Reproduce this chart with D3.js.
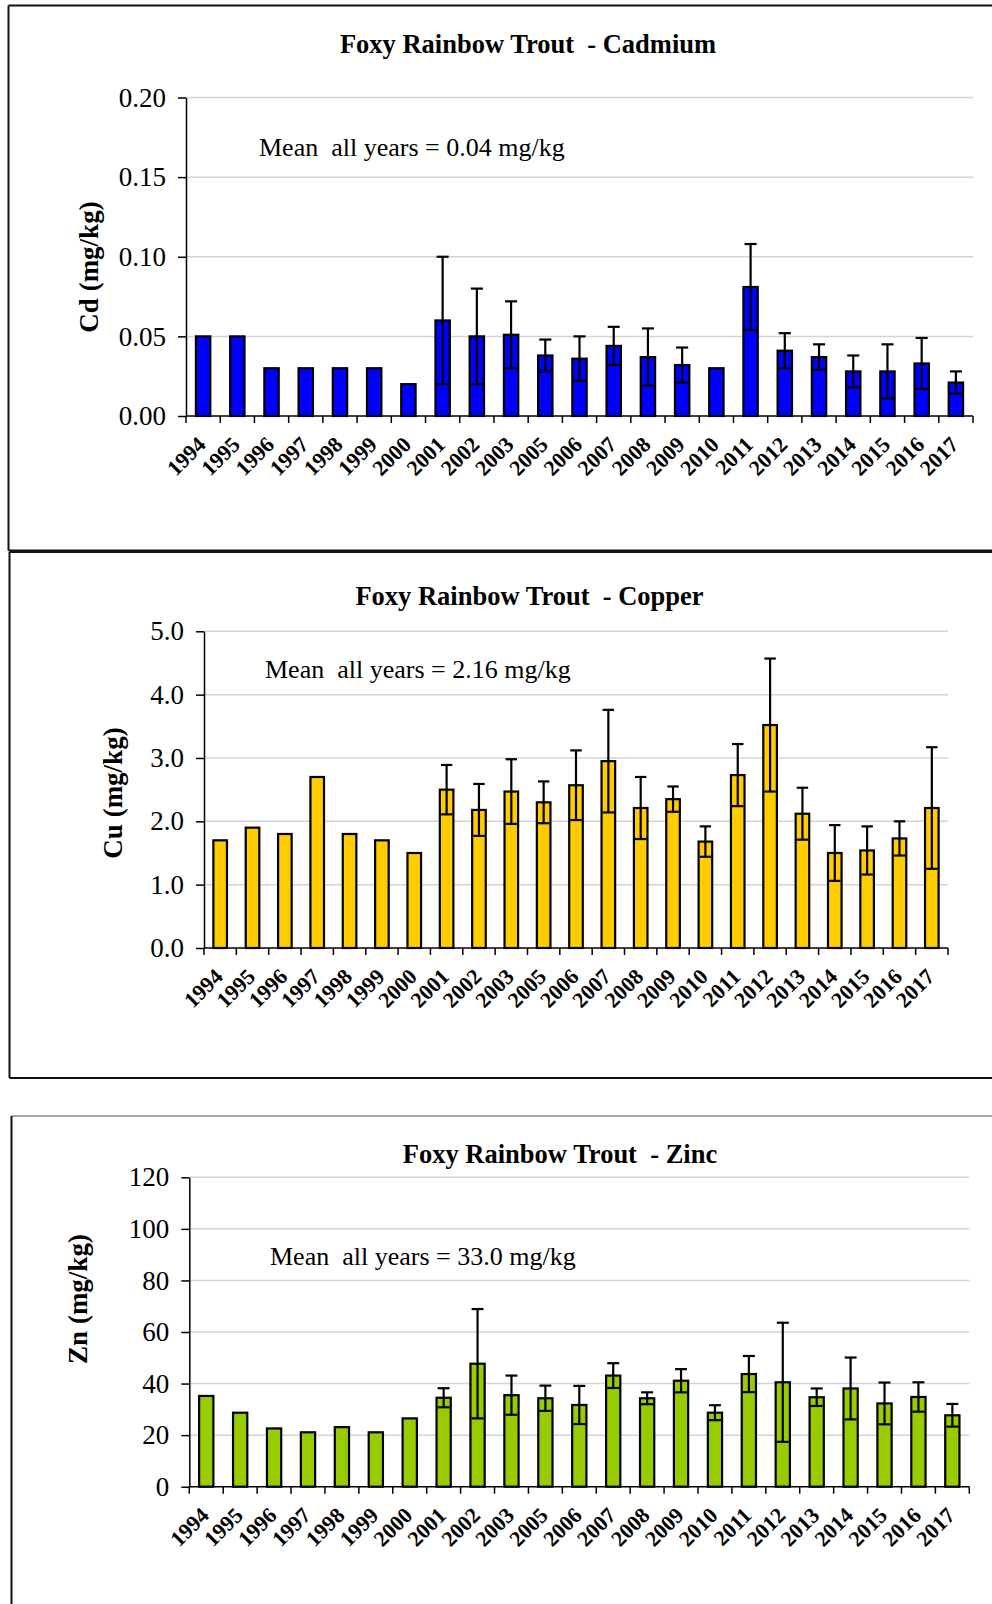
<!DOCTYPE html>
<html>
<head>
<meta charset="utf-8">
<script src="https://cdn.jsdelivr.net/npm/d3@7"></script>
<style>
  html, body { margin: 0; padding: 0; background: #fff; }
  svg { display: block; }
  text { font-family: "Liberation Serif", "Times New Roman", serif; fill: #000; }
</style>
</head>
<body>
<svg id="chart" width="992" height="1604"></svg>
<script>
// Sampling years (no 2004 survey)
const years = ["1994","1995","1996","1997","1998","1999","2000","2001","2002","2003",
  "2005","2006","2007","2008","2009","2010","2011","2012","2013","2014","2015","2016","2017"];

// Cadmium: annual mean and standard deviation (mg/kg)
const cdMean = [0.05,0.05,0.03,0.03,0.03,0.03,0.02,0.06,0.05,0.051,
  0.038,0.036,0.044,0.037,0.032,0.03,0.081,0.041,0.037,0.028,0.028,0.033,0.021];
const cdSd = [null,null,null,null,null,null,null,0.04,0.03,0.021,
  0.010,0.014,0.012,0.018,0.011,null,0.027,0.011,0.008,0.010,0.017,0.016,0.007];
const cdTicks = [0, 0.05, 0.10, 0.15, 0.20];

// Copper
const cuMean = [1.7,1.9,1.8,2.7,1.8,1.7,1.5,2.5,2.18,2.47,
  2.30,2.57,2.95,2.21,2.35,1.68,2.73,3.52,2.12,1.5,1.54,1.73,2.21];
const cuSd = [null,null,null,null,null,null,null,0.39,0.41,0.51,
  0.33,0.55,0.81,0.49,0.20,0.24,0.49,1.05,0.41,0.44,0.38,0.27,0.96];
const cuTicks = [0, 1, 2, 3, 4, 5];

// Zinc
const znMean = [35.2,28.7,22.6,21.1,23.1,21.1,26.5,34.5,47.7,35.5,
  34.3,31.7,43.1,34.3,41.1,28.7,43.7,40.5,34.7,38.1,32.3,34.8,27.7];
const znSd = [null,null,null,null,null,null,null,3.7,21.2,7.6,
  4.9,7.4,4.8,2.3,4.5,2.9,7.0,23.1,3.4,12.0,8.1,5.7,4.4];
const znTicks = [0, 20, 40, 60, 80, 100, 120];

const panels = [
  { title: "Foxy Rainbow Trout  - Cadmium", ylabel: "Cd (mg/kg)", mean: "Mean  all years = 0.04 mg/kg",
    values: cdMean, sd: cdSd, ticks: cdTicks, fmt: d3.format(".2f"), fill: "#0000ff",
    frame: { x: 8.5, y: 5.5, h: 545, topColor: "#111" },
    plot: { left: 186, right: 973, top: 97.5, bottom: 416 },
    titlePos: [528, 53], meanPos: [259, 156], ylabelPos: [89, 267] },
  { title: "Foxy Rainbow Trout  - Copper", ylabel: "Cu (mg/kg)", mean: "Mean  all years = 2.16 mg/kg",
    values: cuMean, sd: cuSd, ticks: cuTicks, fmt: d3.format(".1f"), fill: "#ffcc00",
    frame: { x: 9.5, y: 552, h: 526, topColor: "#111" },
    plot: { left: 204, right: 948, top: 631.3, bottom: 948 },
    titlePos: [529.5, 605], meanPos: [265, 678], ylabelPos: [113, 793] },
  { title: "Foxy Rainbow Trout  - Zinc", ylabel: "Zn (mg/kg)", mean: "Mean  all years = 33.0 mg/kg",
    values: znMean, sd: znSd, ticks: znTicks, fmt: d3.format("d"), fill: "#99cc00",
    frame: { x: 11.5, y: 1116, h: 600, topColor: "#a6a6a6" },
    plot: { left: 189.3, right: 969.3, top: 1177.3, bottom: 1486.7 },
    titlePos: [560, 1163], meanPos: [270, 1265], ylabelPos: [78, 1299] }
];

const svg = d3.select("#chart");

panels.forEach(p => {
  const g = svg.append("g");

  // panel frame (runs off the right edge of the page)
  const f = p.frame;
  g.append("line").attr("x1", f.x).attr("x2", 1000).attr("y1", f.y).attr("y2", f.y)
    .attr("stroke", f.topColor).attr("stroke-width", 2);
  g.append("line").attr("x1", f.x).attr("x2", f.x).attr("y1", f.y).attr("y2", f.y + f.h)
    .attr("stroke", "#111").attr("stroke-width", 2);
  g.append("line").attr("x1", f.x).attr("x2", 1000).attr("y1", f.y + f.h).attr("y2", f.y + f.h)
    .attr("stroke", "#111").attr("stroke-width", 2);

  const x = d3.scaleBand().domain(years).range([p.plot.left, p.plot.right])
    .paddingInner(0.58).paddingOuter(0.29);
  const y = d3.scaleLinear().domain([p.ticks[0], p.ticks[p.ticks.length - 1]])
    .range([p.plot.bottom, p.plot.top]);

  // horizontal gridlines
  g.append("g").selectAll("line").data(p.ticks.slice(1)).join("line")
    .attr("x1", p.plot.left).attr("x2", p.plot.right)
    .attr("y1", d => y(d)).attr("y2", d => y(d))
    .attr("stroke", "#d4d4d4").attr("stroke-width", 1.5);

  // y axis
  const yAxis = g.append("g").attr("transform", `translate(${p.plot.left},0)`)
    .call(d3.axisLeft(y).tickValues(p.ticks).tickFormat(p.fmt).tickSize(8).tickSizeOuter(0).tickPadding(12));
  yAxis.select(".domain").attr("stroke", "#000").attr("stroke-width", 1.5);
  yAxis.selectAll(".tick line").attr("stroke", "#000").attr("stroke-width", 1.5);
  yAxis.selectAll(".tick text").attr("font-size", 27).attr("font-family", "Liberation Serif, serif")
    .attr("fill", "#222");

  // bars
  g.append("g").selectAll("rect").data(years).join("rect")
    .attr("x", d => x(d))
    .attr("width", x.bandwidth())
    .attr("y", (d, i) => y(p.values[i]))
    .attr("height", (d, i) => y(0) - y(p.values[i]))
    .attr("fill", p.fill).attr("stroke", "#000").attr("stroke-width", 2.2);

  // error bars (mean ± SD)
  const eb = years.map((d, i) => ({ year: d, m: p.values[i], s: p.sd[i] })).filter(e => e.s != null);
  const capHalf = x.bandwidth() * 0.42;
  const ebg = g.append("g").attr("stroke", "#000").attr("stroke-width", 2.2);
  ebg.selectAll("line.v").data(eb).join("line").attr("class", "v")
    .attr("x1", e => x(e.year) + x.bandwidth() / 2).attr("x2", e => x(e.year) + x.bandwidth() / 2)
    .attr("y1", e => y(e.m + e.s)).attr("y2", e => y(e.m - e.s));
  ebg.selectAll("line.hi").data(eb).join("line").attr("class", "hi")
    .attr("x1", e => x(e.year) + x.bandwidth() / 2 - capHalf).attr("x2", e => x(e.year) + x.bandwidth() / 2 + capHalf)
    .attr("y1", e => y(e.m + e.s)).attr("y2", e => y(e.m + e.s));
  ebg.selectAll("line.lo").data(eb).join("line").attr("class", "lo")
    .attr("x1", e => x(e.year) + x.bandwidth() / 2 - capHalf).attr("x2", e => x(e.year) + x.bandwidth() / 2 + capHalf)
    .attr("y1", e => y(e.m - e.s)).attr("y2", e => y(e.m - e.s));

  // x axis line and category boundary ticks
  g.append("line").attr("x1", p.plot.left).attr("x2", p.plot.right)
    .attr("y1", y(0)).attr("y2", y(0)).attr("stroke", "#000").attr("stroke-width", 1.5);
  const bounds = d3.range(years.length + 1).map(i => p.plot.left + i * x.step());
  g.append("g").selectAll("line").data(bounds).join("line")
    .attr("x1", d => d).attr("x2", d => d)
    .attr("y1", y(0)).attr("y2", y(0) + 7)
    .attr("stroke", "#000").attr("stroke-width", 1.5);

  // rotated year labels
  g.append("g").selectAll("text").data(years).join("text")
    .attr("transform", d => `translate(${x(d) + x.bandwidth() / 2 + 4},${y(0) + 30}) rotate(-45)`)
    .attr("text-anchor", "end")
    .attr("font-size", 22).attr("font-weight", "bold")
    .text(d => d);

  // title
  g.append("text").attr("x", p.titlePos[0]).attr("y", p.titlePos[1])
    .attr("text-anchor", "middle").attr("font-size", 26.5).attr("font-weight", "bold")
    .style("white-space", "pre").text(p.title);

  // overall mean annotation
  g.append("text").attr("x", p.meanPos[0]).attr("y", p.meanPos[1])
    .attr("font-size", 26).attr("fill", "#222")
    .style("white-space", "pre").text(p.mean);

  // y axis title
  g.append("text")
    .attr("transform", `translate(${p.ylabelPos[0]},${p.ylabelPos[1]}) rotate(-90)`)
    .attr("text-anchor", "middle").attr("dy", "0.35em")
    .attr("font-size", 27).attr("font-weight", "bold")
    .text(p.ylabel);
});
</script>
</body>
</html>
